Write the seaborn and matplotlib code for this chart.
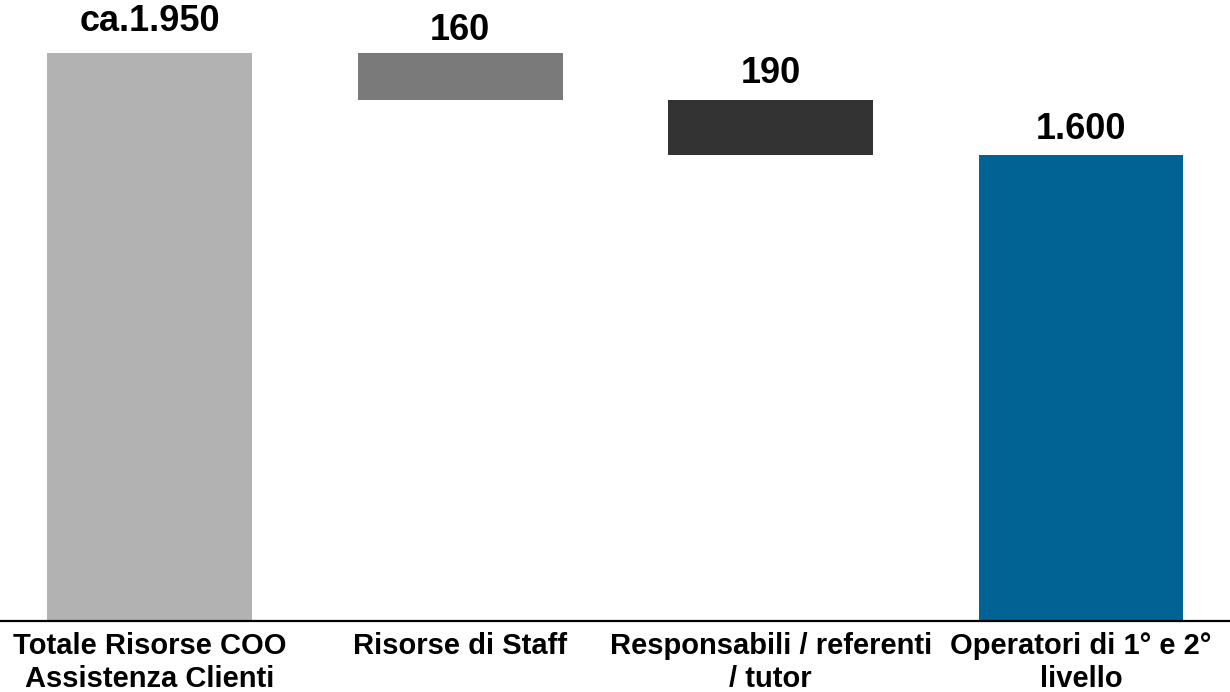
import matplotlib
matplotlib.use("Agg")
import matplotlib.pyplot as plt
import seaborn as sns
import pandas as pd

# Waterfall: total staff split into its three components
categories = [
    "Totale Risorse COO\nAssistenza Clienti",
    "Risorse di Staff",
    "Responsabili / referenti\n/ tutor",
    "Operatori di 1° e 2°\nlivello",
]
values = [1950, 160, 190, 1600]
value_labels = ["ca.1.950", "160", "190", "1.600"]
colors = ["#b2b2b2", "#7a7a7a", "#333333", "#006394"]

# floating bars hang down from the running total
bottoms = [0]
running = values[0]
for v in values[1:]:
    running -= v
    bottoms.append(running)

df = pd.DataFrame({"cat": categories, "value": values, "bottom": bottoms})

sns.set_theme(style="white")
plt.rcParams["font.family"] = ["Liberation Sans", "DejaVu Sans"]

fig = plt.figure(figsize=(12.3, 6.92), dpi=100)
ax = fig.add_axes([0, 0.1026, 1, 0.8974])

sns.barplot(data=df, x="cat", y="value", bottom=df["bottom"].values,
            width=0.66, ax=ax, color="#b2b2b2", saturation=1)

for patch, c in zip(ax.patches, colors):
    patch.set_facecolor(c)
    patch.set_edgecolor("none")

label_pads = [14, 5, 9, 8]
for i, (v, b, txt) in enumerate(zip(values, bottoms, value_labels)):
    ax.annotate(txt, xy=(i, v + b), xytext=(0, label_pads[i]),
                textcoords="offset pixels", ha="center", va="bottom",
                fontsize=26, fontweight="bold", color="black")

ax.set_xlim(-0.483, 3.48)
ax.set_ylim(0, 2132)
ax.set_xlabel("")
ax.set_ylabel("")
ax.set_yticks([])
ax.tick_params(axis="x", length=0, pad=8)
for lbl in ax.get_xticklabels():
    lbl.set_fontsize(21)
    lbl.set_fontweight("bold")
    lbl.set_color("black")
    lbl.set_linespacing(1.2)

for s in ["top", "left", "right"]:
    ax.spines[s].set_visible(False)
ax.spines["bottom"].set_color("black")
ax.spines["bottom"].set_linewidth(1.6)

fig.savefig("out.png", dpi=100)
